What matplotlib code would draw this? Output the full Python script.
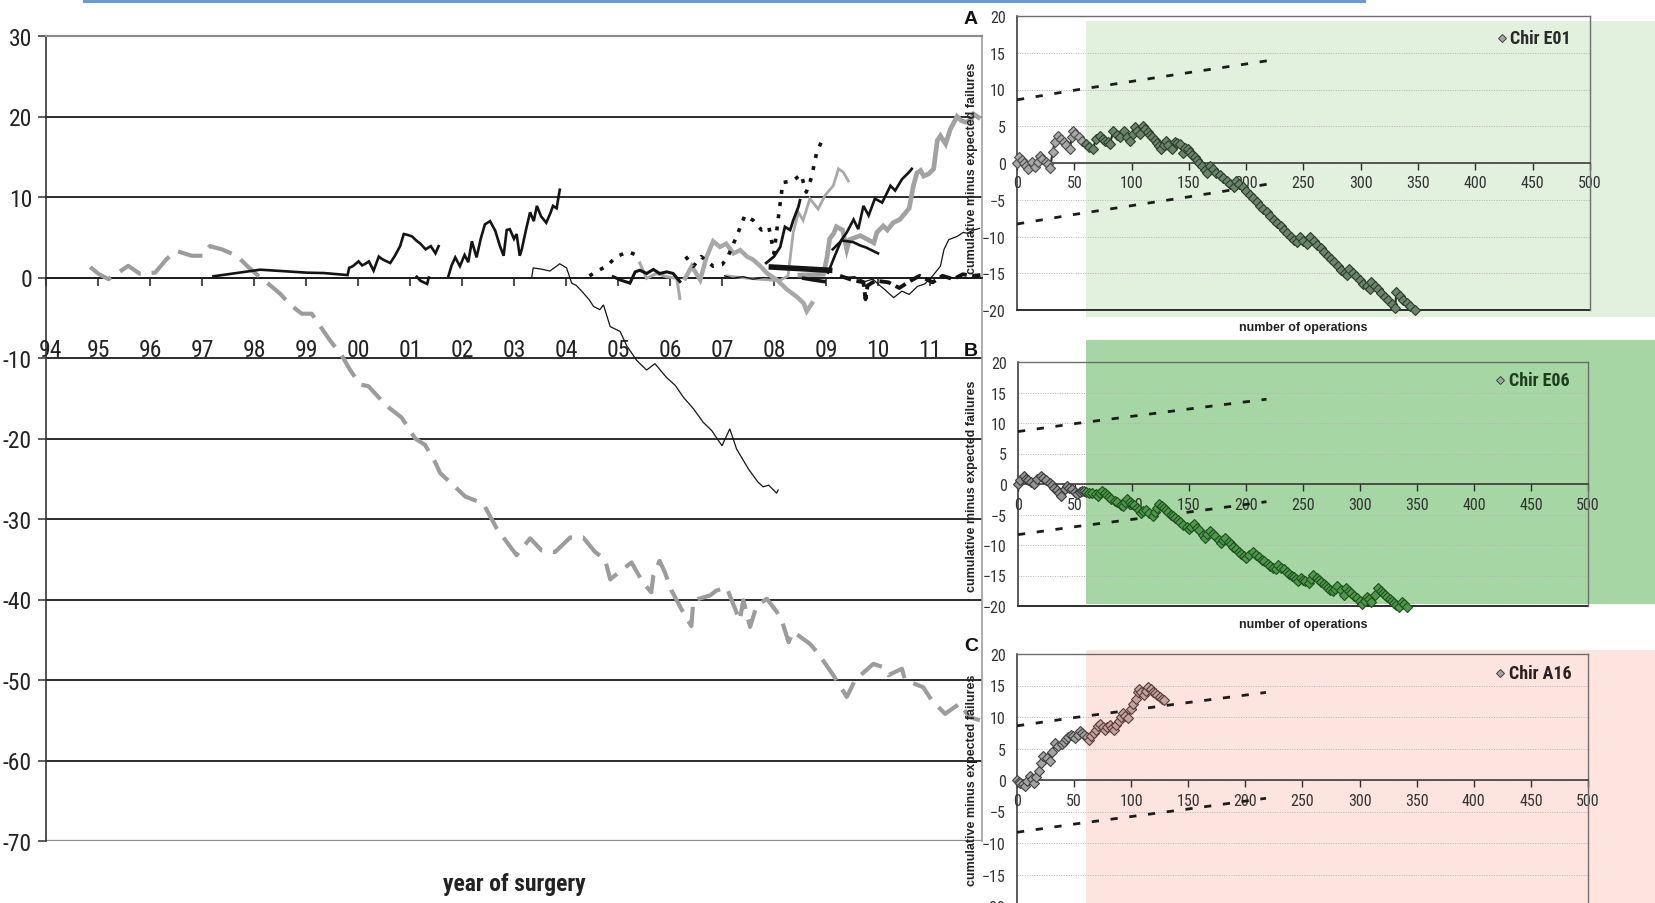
import matplotlib
matplotlib.use("Agg")
import numpy as np
import matplotlib.pyplot as plt
from matplotlib import font_manager
from matplotlib.font_manager import FontProperties
from matplotlib.patches import Rectangle
from matplotlib.lines import Line2D

# ---------------------------------------------------------------- data
year_ticks = list(range(1994, 2012))
year_labels = ['94', '95', '96', '97', '98', '99', '00', '01', '02', '03',
               '04', '05', '06', '07', '08', '09', '10', '11']
left_yticks = [30, 20, 10, 0, -10, -20, -30, -40, -50, -60, -70]

# surgeon curves, cumulative observed minus expected failures by date
g1_year = [1994.85, 1995.01, 1995.2, 1995.39, 1995.58, 1995.81, 1996.1, 1996.32, 1996.51,
           1996.8, 1997.03, 1997.15, 1997.38, 1997.67, 1997.89, 1998.12, 1998.28, 1998.5,
           1998.7, 1998.92, 1999.11, 1999.3, 1999.46, 1999.68, 1999.85, 2000.04, 2000.2,
           2000.4, 2000.6, 2000.84, 2001.1, 2001.29, 2001.48, 2001.58, 2001.8, 2002.06,
           2002.41, 2002.67, 2003.05, 2003.31, 2003.53, 2003.79, 2004.08, 2004.33, 2004.56,
           2004.75, 2004.85, 2005.1, 2005.26, 2005.48, 2005.64, 2005.68, 2005.8, 2005.9,
           2006.03, 2006.22, 2006.41, 2006.45, 2006.77, 2006.89, 2007.09, 2007.34, 2007.41,
           2007.54, 2007.66, 2007.86, 2008.05, 2008.15, 2008.28, 2008.37, 2008.69, 2008.85,
           2009.14, 2009.4, 2009.56, 2009.91, 2010.1, 2010.2, 2010.46, 2010.52, 2010.87,
           2011.03, 2011.29, 2011.58, 2011.75, 2011.96]
g1_val = [1.3, 0.45, -0.2, 0.6, 1.45, 0.45, 0.6, 2.3, 3.3,
          2.7, 2.7, 3.9, 3.5, 2.7, 1.3, 0.0, -0.8, -2.0,
          -3.4, -4.5, -4.5, -6.3, -7.8, -9.6, -11.5, -13.3, -13.5,
          -14.9, -16.2, -17.4, -20.0, -20.8, -22.9, -24.3, -25.6, -27.2,
          -28.1, -31.2, -34.5, -32.4, -33.9, -34.1, -32.3, -32.3, -34.1,
          -35.0, -37.5, -36.2, -35.4, -37.9, -39.1, -37.0, -35.2, -36.6,
          -38.9, -41.2, -43.3, -40.1, -39.5, -38.9, -38.5, -42.6, -40.1,
          -43.4, -40.9, -39.9, -41.5, -42.6, -45.3, -44.0, -45.5, -46.7,
          -49.4, -52.1, -50.0, -48.0, -48.4, -49.4, -48.6, -50.0, -50.9,
          -52.5, -54.2, -52.9, -54.6, -55.0]

b1_year = [1997.22, 1998.12, 1999.02, 1999.35, 1999.8, 1999.83, 1999.9, 2000.01, 2000.08,
           2000.14, 2000.21, 2000.3, 2000.4, 2000.46, 2000.52, 2000.62, 2000.71, 2000.81,
           2000.88, 2000.95, 2001.04, 2001.12, 2001.2, 2001.3, 2001.4, 2001.49, 2001.55]
b1_val = [0.15, 0.97, 0.6, 0.55, 0.3, 1.2, 1.4, 2.0, 1.5,
          1.7, 2.0, 0.85, 2.6, 2.3, 2.1, 1.8, 2.7, 3.9,
          5.4, 5.3, 5.1, 4.6, 4.2, 3.5, 3.9, 3.0, 3.9]

b1b_year = [2001.13, 2001.2, 2001.33, 2001.36]
b1b_val = [0.1, -0.4, -0.8, 0.0]

b2_year = [2001.74, 2001.8, 2001.87, 2001.96, 2002.05, 2002.12, 2002.19, 2002.28, 2002.36,
           2002.44, 2002.54, 2002.64, 2002.73, 2002.8, 2002.86, 2002.92, 2003.0, 2003.05,
           2003.11, 2003.15, 2003.24, 2003.31, 2003.38, 2003.44, 2003.52, 2003.62, 2003.7,
           2003.75, 2003.82, 2003.88]
b2_val = [0.2, 1.5, 2.5, 1.4, 2.8, 1.9, 4.5, 2.5, 4.8,
          6.6, 7.0, 5.8, 3.9, 2.7, 5.9, 6.0, 4.8, 5.4,
          2.7, 3.5, 6.2, 8.1, 7.0, 8.9, 7.6, 6.8, 8.0,
          8.9, 8.6, 10.9]

t1_year = [2003.34, 2003.37, 2003.56, 2003.69, 2003.88, 2004.01, 2004.11, 2004.2, 2004.33,
           2004.45, 2004.53, 2004.65, 2004.72, 2004.85, 2005.04, 2005.17, 2005.36, 2005.55,
           2005.71, 2005.93, 2006.1, 2006.26, 2006.45, 2006.64, 2006.8, 2007.0, 2007.15,
           2007.28, 2007.51, 2007.69, 2007.79, 2007.9, 2008.05, 2008.08]
t1_val = [0.0, 1.2, 1.0, 0.8, 1.7, 1.2, -0.7, -1.0, -1.9,
          -2.8, -3.6, -4.0, -3.4, -6.1, -6.7, -8.5, -10.3, -11.5,
          -10.7, -12.4, -13.4, -14.9, -16.3, -18.0, -19.0, -20.9, -18.8,
          -21.3, -23.8, -25.4, -26.0, -25.8, -26.8, -26.4]

d1a_year = [2004.45, 2004.6, 2004.78, 2004.97, 2005.2, 2005.42]
d1a_val = [0.2, 0.8, 1.4, 2.6, 3.2, 2.6]
d1b_year = [2006.3, 2006.45, 2006.6, 2006.83, 2007.0, 2007.1, 2007.28, 2007.44, 2007.6,
            2007.76, 2007.9, 2008.0, 2008.1, 2008.17, 2008.36, 2008.52, 2008.62, 2008.72,
            2008.82, 2008.92]
d1b_val = [2.6, 1.4, 2.6, 1.4, 1.6, 2.4, 5.1, 7.7, 7.1,
           5.9, 6.3, 3.0, 8.3, 11.8, 12.0, 12.8, 10.6, 12.4,
           15.5, 17.0]

b8_year = [2004.91, 2005.04, 2005.23, 2005.33, 2005.42, 2005.55, 2005.68, 2005.8, 2005.94,
           2006.06, 2006.19]
b8_val = [0.1, -0.3, -0.7, 0.7, 0.9, 0.5, 1.0, 0.5, 0.7, 0.5, -0.5]

g2a_year = [2005.42, 2005.55, 2005.74, 2005.93, 2006.13, 2006.19]
g2a_val = [1.8, -0.1, 0.5, 0.1, -0.1, -2.6]

g2b_year = [2006.29, 2006.42, 2006.58, 2006.7, 2006.83, 2006.96, 2007.08, 2007.22, 2007.35,
            2007.48, 2007.6, 2007.74, 2007.87, 2008.06, 2008.25, 2008.44, 2008.57, 2008.63,
            2008.73]
g2b_val = [-0.1, 1.4, -0.3, 2.5, 4.5, 3.8, 4.2, 3.0, 3.4,
           2.6, 2.2, 1.4, 0.5, -0.3, -1.5, -2.4, -3.2, -4.2, -3.2]

g3_year = [2007.1, 2007.5, 2007.9, 2008.1, 2008.27, 2008.37, 2008.47, 2008.56, 2008.69,
           2008.85, 2008.98, 2009.14, 2009.24, 2009.33, 2009.43]
g3_val = [0.2, -0.1, -0.3, -0.4, 0.2, 5.6, 8.1, 7.1, 9.8,
          8.5, 10.2, 11.4, 13.5, 13.1, 12.0]

b3_year = [2007.85, 2008.0, 2008.12, 2008.21, 2008.31, 2008.37, 2008.47, 2008.5]
b3_val = [1.8, 2.6, 3.8, 6.3, 5.9, 7.1, 8.8, 9.6]

b4_year = [2007.95, 2009.07]
b4_val = [1.3, 0.9]

b5_year = [2009.04, 2009.17, 2009.3, 2009.4, 2009.53, 2009.62, 2009.72, 2009.82, 2009.94,
           2010.08, 2010.24, 2010.33, 2010.46, 2010.6, 2010.65]
b5_val = [0.6, 2.7, 4.7, 5.6, 7.2, 6.0, 8.9, 7.7, 9.8,
          9.3, 11.4, 10.8, 12.2, 13.1, 13.5]

b6_year = [2009.13, 2009.3, 2009.52, 2009.65, 2009.78, 2010.0]
b6_val = [3.5, 4.6, 4.4, 4.0, 3.7, 3.0]

g4_year = [2008.5, 2008.95, 2009.02, 2009.07, 2009.15, 2009.2, 2009.32, 2009.4, 2009.45,
           2009.66, 2009.92, 2009.98, 2010.1, 2010.18, 2010.29, 2010.42, 2010.6, 2010.68,
           2010.75, 2010.82, 2010.88, 2010.98, 2011.07, 2011.14, 2011.2, 2011.3, 2011.39,
           2011.52, 2011.6, 2011.68, 2011.78, 2011.84, 2011.93]
g4_val = [0.3, 0.4, 2.5, 4.8, 5.5, 6.3, 5.9, 3.5, 4.7,
          5.2, 4.3, 5.6, 6.4, 5.9, 6.8, 7.2, 8.6, 11.4,
          13.0, 13.3, 12.6, 12.9, 13.5, 17.0, 17.6, 16.6, 18.4,
          20.0, 19.5, 19.3, 19.5, 20.3, 19.9]

t2_year = [2009.3, 2009.55, 2009.75, 2009.9, 2010.0, 2010.13, 2010.3, 2010.46, 2010.6,
           2010.76, 2010.9, 2011.05, 2011.2, 2011.27, 2011.36, 2011.52, 2011.64, 2011.71,
           2011.84, 2011.95]
t2_val = [0.0, 0.1, -0.5, -0.2, -0.8, -1.5, -2.5, -1.7, -2.1,
          -1.1, -0.8, 0.2, 1.4, 3.5, 4.7, 5.1, 5.6, 5.5,
          5.9, 6.1]

b7_year = [2009.27, 2009.5, 2009.72, 2009.76, 2009.8, 2009.95, 2010.2, 2010.41, 2010.6,
           2010.8, 2011.05, 2011.24, 2011.45, 2011.63, 2011.82, 2011.97]
b7_val = [0.2, -0.3, -0.6, -2.7, -1.0, -0.4, -0.6, -1.3, -0.5,
          0.2, -0.6, 0.2, -0.2, 0.4, 0.2, 0.3]

b9_year = [2007.05, 2007.2, 2007.4, 2007.6, 2007.8]
b9_val = [0.2, -0.1, 0.1, -0.2, 0.0]

b10_year = [2008.57, 2008.75, 2008.96]
b10_val = [-0.1, -0.3, -0.5]

# per-surgeon panels: (operation number, cumulative minus expected failures)
ops_ticks = [0, 50, 100, 150, 200, 250, 300, 350, 400, 450, 500]
panel_yticks = [-20, -15, -10, -5, 0, 5, 10, 15, 20]
limit_ops = [0, 50, 100, 150, 218]
limit_upper = [8.6, 9.9, 11.1, 12.3, 13.9]
limit_lower = [-8.3, -7.0, -5.8, -4.6, -2.9]
start_ops = 60

e01_points = [
    (0, 0.0), (2, 0.8), (4, 0.4), (6, 0.0), (8, -0.4), (10, -0.8), (13, 0.2), (16, -0.6),
    (18, 0.2), (20, 1.0), (22, 0.6), (25, 0.2), (27, -0.2), (29, -0.7), (31, 1.5), (33, 2.8),
    (36, 3.7), (38, 3.3), (41, 2.8), (43, 2.4), (46, 1.9), (48, 3.5), (49, 4.4), (51, 4.0),
    (54, 3.5), (57, 3.0), (60, 2.6), (63, 2.2), (66, 1.9), (69, 3.2), (72, 3.7), (75, 3.3),
    (77, 3.0), (79, 2.8), (81, 2.6), (84, 4.3), (87, 3.8), (90, 3.5), (93, 4.3), (96, 3.6),
    (99, 3.0), (101, 4.0), (103, 4.9), (105, 4.4), (107, 3.9), (110, 5.0), (112, 4.6),
    (114, 4.2), (116, 3.8), (118, 3.5), (120, 3.1), (122, 2.7), (124, 2.3), (126, 1.9),
    (128, 2.5), (130, 3.0), (132, 2.5), (135, 1.9), (138, 2.9), (140, 2.7), (142, 2.6),
    (145, 1.4), (147, 2.0), (149, 1.9), (151, 1.5), (153, 1.1), (155, 0.8), (157, 0.4),
    (159, 0.0), (161, -0.4), (164, -0.9), (166, -1.3), (168, -0.4), (171, -0.8),
    (174, -1.3), (177, -1.7), (180, -2.1), (183, -2.5), (186, -2.9), (189, -3.3),
    (191, -2.4), (194, -2.8), (197, -3.3), (200, -3.8), (203, -4.3), (206, -4.8),
    (209, -5.3), (212, -5.8), (215, -6.2), (218, -6.7), (221, -7.2), (224, -7.7),
    (227, -8.1), (230, -8.6), (233, -9.1), (236, -9.5), (239, -10.0), (242, -10.5),
    (244, -10.8), (247, -10.1), (250, -10.6), (253, -11.0), (256, -10.1), (259, -10.6),
    (262, -11.1), (265, -11.6), (268, -12.1), (271, -12.6), (274, -13.1), (277, -13.5),
    (280, -14.0), (283, -14.5), (286, -15.0), (288, -15.3), (290, -14.4), (293, -14.9),
    (296, -15.4), (299, -15.9), (302, -16.4), (305, -16.8), (308, -17.2), (309, -16.2),
    (312, -16.7), (315, -17.2), (318, -17.7), (321, -18.2), (324, -18.7), (327, -19.2),
    (330, -19.7), (331, -17.6), (334, -18.1), (337, -18.6), (340, -19.0), (343, -19.4),
    (347, -20.0),
]

e06_points = [
    (0, 0.0), (2, 0.7), (5, 1.3), (7, 0.9), (9, 0.6), (11, 0.3), (14, 0.0), (17, 0.8),
    (20, 1.3), (22, 1.0), (25, 0.6), (28, 0.1), (30, -0.2), (32, -0.6), (34, -1.0),
    (36, -1.5), (38, -1.9), (41, -0.9), (43, -0.3), (45, -0.6), (47, -0.9), (50, -1.3),
    (52, -1.6), (54, -1.3), (56, -1.1), (58, -1.2), (60, -1.3), (62, -1.4), (65, -1.5),
    (68, -1.7), (70, -1.9), (72, -1.5), (74, -1.2), (76, -1.5), (78, -1.8), (80, -2.1),
    (82, -2.4), (85, -2.8), (87, -3.0), (90, -3.4), (92, -3.6), (94, -3.0), (96, -2.5),
    (98, -2.9), (100, -3.2), (102, -3.5), (104, -3.9), (106, -4.3), (108, -4.7),
    (110, -4.4), (112, -4.2), (115, -4.7), (118, -5.3), (120, -4.6), (122, -3.9),
    (124, -3.3), (126, -3.6), (128, -3.9), (130, -4.3), (132, -4.6), (134, -5.0),
    (136, -5.3), (138, -5.6), (140, -5.9), (142, -6.2), (145, -6.7), (148, -7.1),
    (150, -7.4), (152, -7.0), (154, -6.6), (157, -7.2), (159, -7.6), (162, -8.3),
    (164, -8.8), (166, -8.2), (168, -7.7), (171, -8.2), (173, -8.6), (176, -9.2),
    (178, -9.6), (180, -9.2), (182, -8.8), (185, -9.5), (187, -9.9), (189, -10.3),
    (191, -10.6), (194, -11.1), (196, -11.4), (198, -11.8), (200, -12.1), (203, -11.6),
    (206, -11.2), (209, -11.7), (211, -12.0), (214, -12.4), (216, -12.7), (219, -13.1),
    (221, -13.4), (224, -13.7), (226, -14.0), (228, -13.2), (231, -13.7), (233, -14.0),
    (236, -14.4), (238, -14.7), (240, -15.0), (242, -15.3), (244, -15.6), (246, -15.9),
    (248, -15.4), (250, -15.7), (252, -15.9), (255, -16.3), (257, -15.6), (259, -14.9),
    (262, -15.4), (264, -15.8), (266, -16.1), (268, -16.4), (270, -16.7), (272, -17.0),
    (274, -17.3), (276, -17.6), (278, -17.2), (280, -16.8), (283, -17.4), (286, -18.2),
    (288, -17.1), (290, -17.5), (292, -17.8), (295, -18.3), (297, -18.7), (300, -19.2),
    (302, -19.7), (304, -19.1), (306, -18.5), (308, -18.9), (310, -19.3), (313, -18.2),
    (316, -17.1), (318, -17.5), (320, -17.9), (322, -18.2), (324, -18.6), (326, -18.9),
    (328, -19.2), (330, -19.5), (332, -19.8), (334, -20.1), (337, -19.3), (339, -19.7),
    (341, -20.1),
]

a16_points = [
    (0, 0.0), (2, -0.3), (3, -0.4), (5, -0.7), (7, -0.9), (9, -0.1), (11, 0.7), (13, 0.1),
    (15, -0.5), (17, 0.5), (19, 1.5), (21, 2.7), (23, 3.8), (26, 3.5), (29, 3.0), (31, 4.5),
    (33, 5.9), (36, 5.4), (39, 5.7), (41, 6.1), (43, 6.5), (45, 6.9), (47, 7.2), (49, 7.0),
    (51, 6.7), (53, 7.2), (55, 7.7), (57, 7.4), (59, 7.1), (61, 6.8), (63, 6.4), (65, 7.0),
    (67, 7.5), (69, 8.0), (71, 8.5), (73, 8.9), (75, 8.4), (77, 8.0), (79, 8.4), (81, 8.7),
    (83, 8.3), (85, 8.0), (87, 8.7), (89, 9.4), (91, 10.0), (93, 10.6), (95, 10.2),
    (97, 9.8), (100, 11.2), (102, 12.0), (104, 12.8), (106, 14.0), (107, 14.5), (109, 14.0),
    (111, 13.5), (113, 14.2), (115, 14.8), (117, 14.4), (119, 14.0), (121, 13.8),
    (123, 13.5), (125, 13.2), (127, 12.9), (129, 12.7),
]

# ---------------------------------------------------------------- fonts
_STRETCH = {'ultra-condensed': 100, 'extra-condensed': 200, 'condensed': 300,
            'semi-condensed': 400, 'normal': 500}
_WEIGHT = {'ultralight': 200, 'light': 300, 'normal': 400, 'regular': 400, 'book': 400,
           'medium': 500, 'semibold': 600, 'demibold': 600, 'bold': 700, 'heavy': 800,
           'extra bold': 800, 'black': 900}


def _stretch(f):
    s = f.stretch
    if isinstance(s, str):
        s = _STRETCH.get(s, 500)
    if 'Narrow' in f.name or 'Condensed' in f.name:
        s = min(s, 300)
    return s


def _weight(f):
    w = f.weight
    if isinstance(w, str):
        w = _WEIGHT.get(w.lower(), 400)
    return w


_condensed = [f for f in font_manager.fontManager.ttflist
              if _stretch(f) < 500 and f.style == 'normal']
_pref = ['Liberation Sans Narrow', 'Arial Narrow', 'Roboto Condensed', 'Open Sans Condensed',
         'Noto Sans Condensed', 'Noto Sans', 'DejaVu Sans Condensed', 'DejaVu Sans']


def _pick(target_weight):
    pool = []
    for nm in _pref:
        pool = [f for f in _condensed if f.name == nm]
        if pool:
            break
    if not pool:
        pool = list(_condensed)
    if not pool:
        return None
    pool.sort(key=lambda f: (abs(_stretch(f) - 300), abs(_weight(f) - target_weight)))
    return pool[0].fname


_NARROW_REG = _pick(400)
_NARROW_BOLD = _pick(700)
_names = {f.name for f in font_manager.fontManager.ttflist}
ARIAL = 'Liberation Sans' if 'Liberation Sans' in _names else 'DejaVu Sans'


def narrow(size, weight='normal'):
    path = _NARROW_BOLD if weight == 'bold' else _NARROW_REG
    if path:
        return FontProperties(fname=path, size=size)
    return FontProperties(family='DejaVu Sans', size=size, weight=weight)


# ---------------------------------------------------------------- layout
W, H = 1656, 904
fig = plt.figure(figsize=(W / 100, H / 100), dpi=100)
fig.patch.set_facecolor('white')


def box(x0, y0, x1, y1):
    return [x0 / W, 1 - y1 / H, (x1 - x0) / W, (y1 - y0) / H]


# thin blue rule along the top edge
fig.add_artist(Line2D([84 / W, 1364 / W], [1 - 1.5 / H] * 2, color='#6b9bd2', lw=2.2))

# ---------------------------------------------------------------- main chart
axL = fig.add_axes(box(46, 37, 982, 842))
axL.set_xlim(1994, 2012)
axL.set_ylim(-70, 30)
for v in left_yticks[1:-1]:
    axL.axhline(v, color='#1c1c1c', lw=1.3, zorder=1)
axL.axhline(-70, color='#8c8c8c', lw=1.6, zorder=1)
axL.spines['top'].set_color('#8c8c8c')
axL.spines['top'].set_linewidth(1.6)
axL.spines['right'].set_color('#a0a0a0')
axL.spines['right'].set_linewidth(1.2)
axL.spines['left'].set_color('#333333')
axL.spines['left'].set_linewidth(1.2)
axL.spines['bottom'].set_position(('data', 0))
axL.spines['bottom'].set_color('#1c1c1c')
axL.spines['bottom'].set_linewidth(1.3)
axL.set_yticks(left_yticks)
axL.set_yticklabels([str(v) for v in left_yticks])
for lab in axL.get_yticklabels():
    lab.set_fontproperties(narrow(17))
    lab.set_color('#222222')
axL.tick_params(axis='y', direction='out', length=6, width=1.1, color='#333333', pad=4)
axL.set_xticks(year_ticks)
axL.tick_params(axis='x', direction='out', length=6, width=1.1, color='#1c1c1c',
                labelbottom=False)
for yr, lab in zip(year_ticks, year_labels):
    xpos = yr + 0.08 if yr == year_ticks[0] else yr
    axL.text(xpos, -9.0, lab, ha='center', va='center', fontproperties=narrow(17),
             color='#222222', zorder=6)

fig.text(514 / W, 1 - 885 / H, 'year of surgery', ha='center', va='center',
         fontproperties=narrow(17, 'bold'), color='#222222')

GRAY = '#9c9c9c'
LGRAY = '#a8a8a8'
BLACK = '#141414'
main_series = [
    (g1_year, g1_val, dict(color=GRAY, lw=3.0, ls=(0, (6, 2.6)))),
    (g2a_year, g2a_val, dict(color=LGRAY, lw=2.2)),
    (g2b_year, g2b_val, dict(color=LGRAY, lw=3.2)),
    (g3_year, g3_val, dict(color=LGRAY, lw=2.0)),
    (g4_year, g4_val, dict(color='#a2a2a2', lw=3.4)),
    (b1_year, b1_val, dict(color=BLACK, lw=1.9)),
    (b1b_year, b1b_val, dict(color=BLACK, lw=1.9)),
    (b2_year, b2_val, dict(color=BLACK, lw=1.9)),
    (t1_year, t1_val, dict(color=BLACK, lw=0.9)),
    (d1a_year, d1a_val, dict(color=BLACK, lw=2.6, ls=(0, (1.1, 2.3)))),
    (d1b_year, d1b_val, dict(color=BLACK, lw=2.6, ls=(0, (1.1, 2.3)))),
    (b8_year, b8_val, dict(color=BLACK, lw=2.2)),
    (b9_year, b9_val, dict(color=BLACK, lw=1.0)),
    (b3_year, b3_val, dict(color=BLACK, lw=2.0)),
    (b4_year, b4_val, dict(color=BLACK, lw=4.0)),
    (b10_year, b10_val, dict(color=BLACK, lw=2.6)),
    (b5_year, b5_val, dict(color=BLACK, lw=1.9)),
    (b6_year, b6_val, dict(color=BLACK, lw=1.9)),
    (t2_year, t2_val, dict(color=BLACK, lw=0.9)),
    (b7_year, b7_val, dict(color=BLACK, lw=2.8, ls=(0, (3, 1.4)))),
]
for k, (xs, ys, st) in enumerate(main_series):
    axL.plot(xs, ys, zorder=3 + k * 0.01, solid_joinstyle='miter', **st)


# ---------------------------------------------------------------- panels
def panel(rect_px, points, name, letter, letter_y, fill, fill_y,
          out_face, out_edge, in_face, in_edge, name_color, ylab_y, xlab_y):
    ax = fig.add_axes(box(*rect_px))
    ax.set_xlim(0, 500)
    ax.set_ylim(-20, 20)
    ax.set_facecolor('white')
    y0, y1 = fill_y
    ax.add_patch(Rectangle((start_ops, y0), 900, y1 - y0, transform=ax.get_xaxis_transform(),
                           facecolor=fill, edgecolor='none', clip_on=False, zorder=0.5))
    ax.set_yticks(panel_yticks)
    ax.yaxis.grid(True, color='#b4b4b4', lw=0.7, ls=(0, (1, 1.5)), zorder=1)
    ax.set_xticks(ops_ticks)
    ax.spines['bottom'].set_position(('data', 0))
    for s in ('bottom', 'left'):
        ax.spines[s].set_color('#2e2e2e')
        ax.spines[s].set_linewidth(1.1)
    for s in ('top', 'right'):
        ax.spines[s].set_color('#6e6e6e')
        ax.spines[s].set_linewidth(1.0)
    ax.axhline(-20, color='#2e2e2e', lw=1.4, zorder=2, clip_on=False)
    ax.tick_params(axis='x', direction='out', length=5, width=1, color='#2e2e2e', pad=4)
    ax.tick_params(axis='y', length=0, pad=8)
    for lab in ax.get_xticklabels() + ax.get_yticklabels():
        lab.set_fontproperties(narrow(11.5))
        lab.set_color('#333333')

    ax.plot(limit_ops, limit_upper, color='#1c1c1c', lw=2.0, ls=(0, (2.6, 4.2)), zorder=3)
    ax.plot(limit_ops, limit_lower, color='#1c1c1c', lw=2.0, ls=(0, (2.6, 4.2)), zorder=3)

    o = np.array([p[0] for p in points], dtype=float)
    v = np.array([p[1] for p in points], dtype=float)
    ax.plot(o, v, color='#2e2e2e', lw=1.5, zorder=4, clip_on=False)
    early = o < start_ops
    ax.plot(o[early], v[early], 'D', ls='none', ms=5.2, mfc=out_face, mec=out_edge,
            mew=0.8, zorder=5, clip_on=False)
    ax.plot(o[~early], v[~early], 'D', ls='none', ms=5.2, mfc=in_face, mec=in_edge,
            mew=0.8, zorder=5, clip_on=False)

    # series key
    ax.plot([0.846], [0.925], 'D', transform=ax.transAxes, ms=3.6, mfc='#a4a4a4',
            mec='#444444', mew=0.7, clip_on=False, zorder=6)
    ax.text(0.861, 0.925, name, transform=ax.transAxes, ha='left', va='center',
            fontproperties=narrow(13, 'bold'), color=name_color, zorder=6)

    fig.text(971 / W, 1 - letter_y / H, letter, ha='center', va='center', fontsize=14,
             fontweight='bold', family=ARIAL, color='#111111')
    fig.text(972 / W, 1 - ylab_y / H, 'cumulative minus expected failures', rotation=90,
             ha='center', va='center', fontsize=9, fontweight='bold', family=ARIAL,
             color='#222222')
    if xlab_y is not None:
        fig.text(1303 / W, 1 - xlab_y / H, 'number of operations', ha='center', va='center',
                 fontsize=9, fontweight='bold', family=ARIAL, color='#222222')
    return ax


panel((1017, 17, 1590, 311), e01_points, 'Chir E01', 'A', 20, '#e2f0de',
      (-0.024, 0.983), '#a8a8a8', '#4a4a4a', '#6b856b', '#2c3d2c', '#2a2a2a', 168, 328)
panel((1018, 363, 1588, 607), e06_points, 'Chir E06', 'B', 352, '#a6d6a3',
      (0.008, 1.09), '#939393', '#3a3a3a', '#4c9a4a', '#1f4f1f', '#1d3d1d', 486, 625)
panel((1017, 655, 1588, 907), a16_points, 'Chir A16', 'C', 647, '#fde4df',
      (-0.06, 1.016), '#a4a4a4', '#404040', '#c4a29e', '#5a3c3a', '#2a2020', 780, None)

fig.savefig('out.png', dpi=100, facecolor='white')
